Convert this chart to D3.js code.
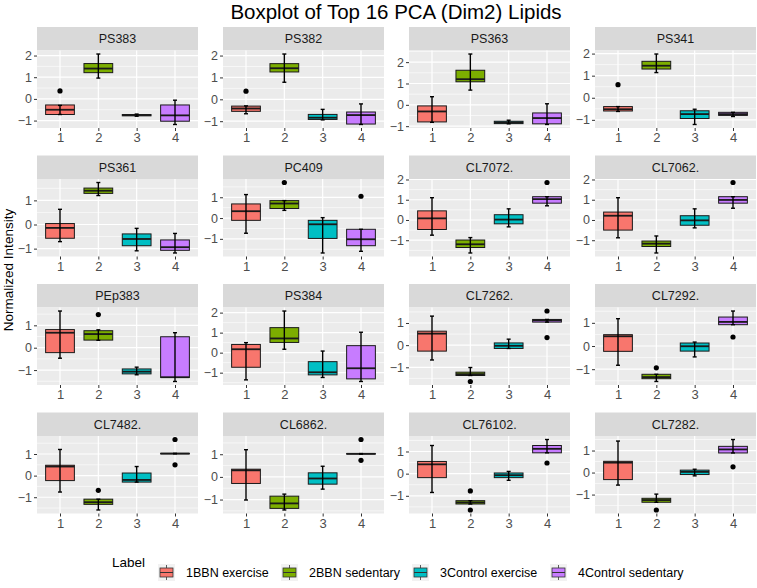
<!DOCTYPE html>
<html><head><meta charset="utf-8">
<script src="https://cdn.jsdelivr.net/npm/d3@7"></script>
<style>body{margin:0;background:#fff}svg{display:block;font-family:"Liberation Sans",Arial,sans-serif}</style>
</head><body><svg id="c" width="757" height="588"></svg>
<script>
const title = "Boxplot of Top 16 PCA (Dim2) Lipids";
const panels = ["PS383","PS382","PS363","PS341","PS361","PC409","CL7072.","CL7062.","PEp383","PS384","CL7262.","CL7292.","CL7482.","CL6862.","CL76102.","CL7282."];
const groups = ["1BBN exercise","2BBN sedentary","3Control exercise","4Control sedentary"];
const xLabels = ["1","2","3","4"];
const colors = ["#F8766D","#7CAE00","#00BFC4","#C77CFF"];
// per panel, per group: [lower whisker, q1, median, q3, upper whisker]
const whiskerLow = [
 [-0.72,0.96,-0.80,-1.18],[-0.66,0.78,-0.94,-1.15],[-0.82,0.69,-0.89,-0.92],[-0.62,1.14,-1.21,-0.85],
 [-0.71,1.20,-1.09,-1.18],[-0.73,0.37,-1.68,-1.60],[-0.75,-1.63,-0.34,0.70],[-0.88,-1.63,-0.39,0.58],
 [-0.47,0.33,-1.21,-1.51],[-1.36,0.17,-1.24,-1.44],[-0.67,-1.37,-0.15,1.04],[-0.83,-1.53,-0.47,0.92],
 [-0.76,-1.59,-0.30,1.01],[-1.02,-1.46,-0.54,1.01],[-0.85,-1.37,-0.30,0.94],[-0.57,-1.35,-0.15,0.89]];
const q1 = [
 [-0.72,1.21,-0.78,-1.03],[-0.55,1.25,-0.92,-1.13],[-0.80,1.08,-0.88,-0.89],[-0.60,1.30,-0.94,-0.80],
 [-0.57,1.29,-0.88,-1.07],[-0.11,0.46,-0.98,-1.33],[-0.47,-1.36,-0.19,0.83],[-0.50,-1.31,-0.26,0.83],
 [-0.22,0.34,-1.17,-1.33],[-0.73,0.51,-1.11,-1.31],[-0.27,-1.37,-0.15,1.04],[-0.23,-1.41,-0.22,0.92],
 [-0.23,-1.33,-0.30,1.01],[-0.29,-1.39,-0.32,1.01],[-0.18,-1.37,-0.18,0.94],[-0.32,-1.35,-0.09,0.89]];
const median = [
 [-0.50,1.40,-0.75,-0.76],[-0.42,1.42,-0.84,-0.72],[-0.31,1.20,-0.83,-0.62],[-0.52,1.45,-0.74,-0.74],
 [-0.14,1.40,-0.60,-0.94],[0.33,0.70,-0.30,-1.02],[0.08,-1.20,0.02,1.03],[0.21,-1.17,-0.02,0.99],
 [0.67,0.61,-1.07,-1.32],[0.17,0.71,-0.98,-0.78],[0.52,-1.31,-0.03,1.12],[0.42,-1.34,-0.01,1.04],
 [0.42,-1.23,-0.20,1.02],[0.29,-1.17,-0.07,1.02],[0.42,-1.30,-0.07,1.12],[0.45,-1.25,0.03,1.05]];
const q3 = [
 [-0.28,1.63,-0.72,-0.28],[-0.31,1.63,-0.69,-0.58],[-0.05,1.62,-0.77,-0.38],[-0.40,1.65,-0.59,-0.66],
 [0.04,1.51,-0.39,-0.64],[0.68,0.84,-0.11,-0.54],[0.45,-0.99,0.26,1.15],[0.39,-1.04,0.21,1.15],
 [0.81,0.76,-0.95,0.49],[0.41,1.25,-0.45,0.35],[0.63,-1.22,0.10,1.16],[0.49,-1.22,0.13,1.25],
 [0.48,-1.09,0.12,1.03],[0.34,-0.85,0.18,1.03],[0.55,-1.22,0.03,1.27],[0.51,-1.17,0.11,1.19]];
const whiskerHigh = [
 [-0.30,2.07,-0.70,-0.06],[-0.30,2.07,-0.46,-0.21],[0.38,2.38,-0.72,0.05],[-0.40,1.98,-0.52,-0.66],
 [0.63,1.74,-0.16,-0.37],[1.13,0.84,0.02,-0.54],[1.10,-0.87,0.55,1.15],[1.10,-0.79,0.55,1.15],
 [1.64,0.80,-0.87,0.67],[0.50,2.08,0.08,1.02],[1.31,-1.01,0.27,1.16],[1.18,-1.22,0.17,1.51],
 [1.21,-1.09,0.42,1.03],[1.20,-0.76,0.47,1.03],[1.27,-1.22,0.10,1.54],[1.43,-0.98,0.15,1.50]];
// outliers: [panel index, group index, value]
const outliers = [
 [0,0,0.37],[1,0,0.37],[3,0,0.59],[5,1,1.71],[5,3,1.05],[6,3,1.85],[7,3,1.85],[8,1,1.48],
 [10,1,-1.64],[10,3,1.54],[10,3,0.34],[11,1,-0.94],[11,3,0.39],[12,1,-0.68],[12,3,1.67],[12,3,0.50],
 [13,3,1.65],[13,3,0.73],[14,1,-0.78],[14,1,-1.64],[14,3,0.48],[15,1,-1.70],[15,3,0.26]];
const yTitle = "Normalized Intensity";
const legendTitle = "Label";

const svg = d3.select("#c");
const colX = [37,223,409,595], pw = 161;
const rowY = [27,155.5,284,412.5], stripH = 23.5, ph = 77.5;
const textCol = "#4D4D4D";

svg.append("text").attr("x",396).attr("y",18.5).attr("text-anchor","middle")
  .attr("font-size",20.5).attr("fill","#000").text(title);

svg.append("text").attr("transform","translate(13,270) rotate(-90)").attr("text-anchor","middle")
  .attr("font-size",13.5).attr("fill","#000").text(yTitle);

panels.forEach((name,pi)=>{
  const x0 = colX[pi%4], y0 = rowY[Math.floor(pi/4)];
  const g = svg.append("g").attr("transform",`translate(${x0},${y0})`);
  // strip
  g.append("rect").attr("width",pw).attr("height",stripH).attr("fill","#D9D9D9");
  g.append("text").attr("x",pw/2).attr("y",stripH/2+4.5).attr("text-anchor","middle")
    .attr("font-size",12.5).attr("fill","#1A1A1A").text(name);
  const pg = g.append("g").attr("transform",`translate(0,${stripH})`);
  pg.append("rect").attr("width",pw).attr("height",ph).attr("fill","#EBEBEB");
  // y domain
  const vals = [...whiskerLow[pi],...whiskerHigh[pi],...outliers.filter(o=>o[0]===pi).map(o=>o[2])];
  const lo = d3.min(vals), hi = d3.max(vals), pad = (hi-lo)*0.05;
  const y = d3.scaleLinear().domain([lo-pad,hi+pad]).range([ph,0]);
  const x = d3.scalePoint().domain(xLabels).range([0,pw]).padding(0.6);
  const bw = x.step()*0.75;
  // minor grid
  const minor = d3.range(Math.ceil((lo-pad)*2)/2, hi+pad, 0.5).filter(v=>Math.abs(v%1)>0.01);
  pg.selectAll(".mn").data(minor).join("line").attr("x1",0).attr("x2",pw)
    .attr("y1",d=>y(d)).attr("y2",d=>y(d)).attr("stroke","#fff").attr("stroke-width",0.6);
  const major = d3.range(Math.ceil(lo-pad), hi+pad+1e-9, 1);
  pg.selectAll(".mj").data(major).join("line").attr("x1",0).attr("x2",pw)
    .attr("y1",d=>y(d)).attr("y2",d=>y(d)).attr("stroke","#fff").attr("stroke-width",1.2);
  pg.selectAll(".vx").data(xLabels).join("line").attr("x1",d=>x(d)).attr("x2",d=>x(d))
    .attr("y1",0).attr("y2",ph).attr("stroke","#fff").attr("stroke-width",1.2);
  // axes
  const ya = pg.append("g").call(d3.axisLeft(y).tickValues(major).tickFormat(d3.format("d")).tickSize(3).tickPadding(2));
  ya.select(".domain").remove();
  ya.selectAll("line").attr("stroke","#333");
  ya.selectAll("text").attr("font-size",12.5).attr("fill",textCol).attr("font-family","inherit");
  const xa = pg.append("g").attr("transform",`translate(0,${ph})`).call(d3.axisBottom(x).tickSize(3).tickPadding(2));
  xa.select(".domain").remove();
  xa.selectAll("line").attr("stroke","#333");
  xa.selectAll("text").attr("font-size",13).attr("fill",textCol).attr("font-family","inherit");
  // boxes
  xLabels.forEach((lab,gi)=>{
    const cx = x(lab);
    pg.append("rect").attr("x",cx-bw/2).attr("width",bw)
      .attr("y",y(q3[pi][gi])).attr("height",Math.max(0.5,y(q1[pi][gi])-y(q3[pi][gi])))
      .attr("fill",colors[gi]).attr("stroke","#1a1a1a").attr("stroke-width",1);
    pg.append("line").attr("x1",cx-bw/2).attr("x2",cx+bw/2)
      .attr("y1",y(median[pi][gi])).attr("y2",y(median[pi][gi])).attr("stroke","#1a1a1a").attr("stroke-width",1.8);
    pg.append("line").attr("x1",cx).attr("x2",cx)
      .attr("y1",y(whiskerLow[pi][gi])).attr("y2",y(whiskerHigh[pi][gi])).attr("stroke","#000").attr("stroke-width",1.4);
    [whiskerLow[pi][gi],whiskerHigh[pi][gi]].forEach(v=>{
      pg.append("line").attr("x1",cx-2).attr("x2",cx+2).attr("y1",y(v)).attr("y2",y(v))
        .attr("stroke","#000").attr("stroke-width",1.4);
    });
  });
  outliers.filter(o=>o[0]===pi).forEach(o=>{
    pg.append("circle").attr("cx",x(xLabels[o[1]])).attr("cy",y(o[2])).attr("r",2.6).attr("fill","#000");
  });
});

// legend
svg.append("text").attr("x",112).attr("y",567).attr("font-size",13.5).attr("fill","#000").text(legendTitle);
const keyX = [158,281,412,550];
groups.forEach((gname,i)=>{
  const kx = keyX[i], ky = 564;
  const k = svg.append("g").attr("transform",`translate(${kx},${ky})`);
  k.append("rect").attr("width",17).attr("height",17).attr("fill","#F2F2F2");
  k.append("line").attr("x1",8.5).attr("x2",8.5).attr("y1",1).attr("y2",16).attr("stroke","#333").attr("stroke-width",0.8);
  k.append("rect").attr("x",2).attr("y",4).attr("width",13).attr("height",9).attr("fill",colors[i]).attr("stroke","#333").attr("stroke-width",0.8);
  k.append("line").attr("x1",2).attr("x2",15).attr("y1",8.5).attr("y2",8.5).attr("stroke","#333").attr("stroke-width",1);
  svg.append("text").attr("x",kx+28).attr("y",ky+13).attr("font-size",12.5).attr("fill","#000").text(gname);
});
</script></body></html>
